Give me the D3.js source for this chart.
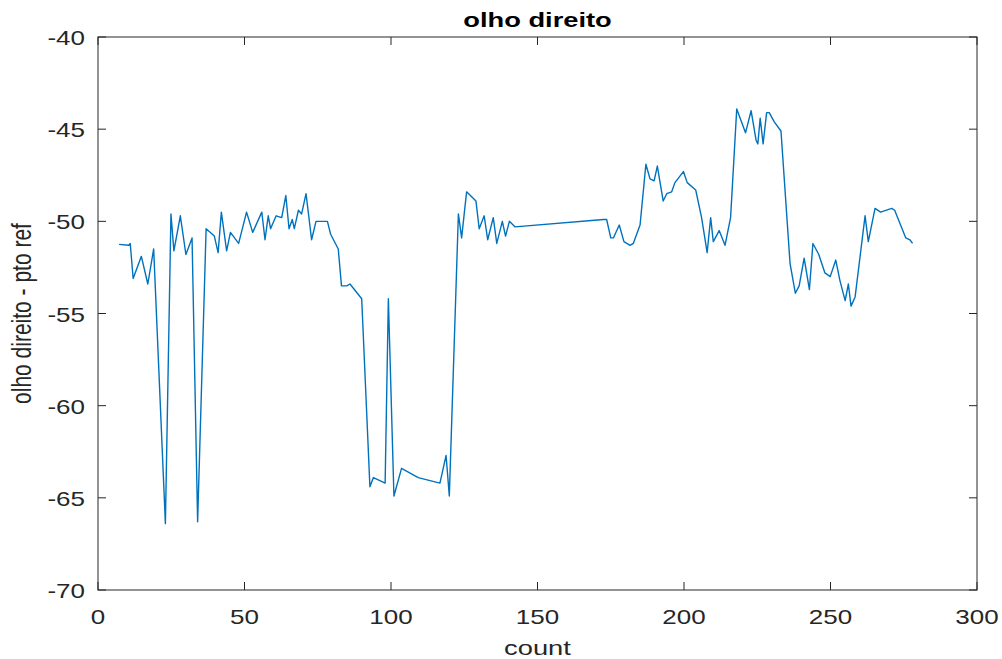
<!DOCTYPE html>
<html lang="en">
<head>
    <meta charset="UTF-8">
    <title>olho direito</title>
    <style>
        body { margin: 0; background: #fff; }
        text { font-family: "Liberation Sans", Arial, sans-serif; fill: #262626; }
        .tick-label { font-size: 20px; }
        .title { font-size: 21px; font-weight: bold; fill: #000; }
        .axis-label { font-size: 21px; }
    </style>
    <script src="https://d3js.org/d3.v7.min.js"></script>
</head>
<body>
    <div id="chart"></div>
    <script>
        // counts and values
        const counts = [7.2, 10.5, 11, 12, 14.8, 17, 19, 23, 24.9, 25.9, 28.1, 30, 32.1, 34,
            36.9, 39.7, 41, 42.1, 43.9, 45.2, 48, 50.7, 52.8, 55.9, 57, 58.1, 58.9, 60.8, 62.7,
            64.1, 65.2, 66.3, 67, 68.4, 69.5, 71, 72.9, 74.4, 78.3, 79.4, 82, 83.1, 84.9, 86, 90,
            92.8, 94, 98, 99.1, 101, 103.6, 109.3, 116.7, 118.8, 119.9, 123, 124.1, 125.8, 129,
            130.1, 131.8, 133, 134.9, 136.1, 138, 139.1, 140.4, 142.3, 172.5, 173.6, 175, 175.9,
            177.9, 179.5, 181.6, 182.7, 185, 187, 188.4, 189.8, 190.9, 192.9, 194.1, 195.8, 196.9,
            199.8, 201.1, 204, 206, 207.9, 209.1, 210, 212, 214, 215.9, 218, 221, 222.9, 224.6,
            225.2, 226, 227, 228.2, 229.1, 230.8, 233.1, 236.2, 238, 239.3, 241, 242.8, 244,
            246, 248.1, 249.9, 251.8, 253.2, 255, 256.1, 257, 258.4, 261.8, 262.9, 265.2, 267.1,
            270.9, 271.9, 275.7, 277.1, 278];
        const values = [-51.25, -51.3, -51.2, -53.1, -51.9, -53.4, -51.5, -66.4, -49.6, -51.6,
            -49.7, -51.8, -50.9, -66.3, -50.4, -50.8, -51.7, -49.5, -51.6, -50.6, -51.2, -49.5,
            -50.6, -49.5, -51.0, -49.7, -50.4, -49.7, -49.8, -48.6, -50.4, -49.9, -50.4, -49.4,
            -49.6, -48.5, -51.0, -50.0, -50.0, -50.7, -51.5, -53.5, -53.5, -53.4, -54.2, -64.4,
            -63.9, -64.2, -54.2, -64.9, -63.4, -63.9, -64.2, -62.7, -64.9, -49.6, -50.9, -48.4,
            -48.9, -50.4, -49.7, -51.0, -49.8, -51.2, -50.0, -50.8, -50.0, -50.3, -49.9, -49.9,
            -50.9, -50.9, -50.2, -51.1, -51.3, -51.2, -50.2, -46.9, -47.7, -47.8, -47.0, -48.9,
            -48.5, -48.4, -47.9, -47.3, -47.9, -48.3, -49.8, -51.7, -49.8, -51.1, -50.5, -51.3,
            -49.8, -43.9, -45.2, -44.0, -45.6, -45.8, -44.4, -45.8, -44.1, -44.1, -44.6, -45.1,
            -52.3, -53.9, -53.5, -52.0, -53.7, -51.2, -51.8, -52.8, -53.0, -52.1, -53.2, -54.3,
            -53.4, -54.6, -54.1, -49.7, -51.1, -49.3, -49.5, -49.3, -49.4, -50.9, -51.0, -51.2];
        const xTicks = [0, 50, 100, 150, 200, 250, 300];
        const yTicks = [-70, -65, -60, -55, -50, -45, -40];

        const width = 1002, height = 659;
        const margin = { left: 98, right: 25, top: 37, bottom: 69 };
        const tickLen = 8;
        const stretch = 1.3; // the figure's text is drawn wider than tall

        const svg = d3.select("#chart").append("svg")
            .attr("width", width)
            .attr("height", height);

        const x = d3.scaleLinear().domain([0, 300]).range([margin.left, width - margin.right]);
        const y = d3.scaleLinear().domain([-70, -40]).range([height - margin.bottom, margin.top]);

        const x0 = x.range()[0], x1 = x.range()[1];
        const y0 = y.range()[0], y1 = y.range()[1];

        // tick marks on all four sides, pointing in
        const ticks = svg.append("g").attr("stroke", "#262626").attr("stroke-width", 1);
        xTicks.forEach(t => {
            ticks.append("line").attr("x1", x(t)).attr("x2", x(t)).attr("y1", y0).attr("y2", y0 - tickLen);
            ticks.append("line").attr("x1", x(t)).attr("x2", x(t)).attr("y1", y1).attr("y2", y1 + tickLen);
        });
        yTicks.forEach(t => {
            ticks.append("line").attr("x1", x0).attr("x2", x0 + tickLen).attr("y1", y(t)).attr("y2", y(t));
            ticks.append("line").attr("x1", x1).attr("x2", x1 - tickLen).attr("y1", y(t)).attr("y2", y(t));
        });

        svg.append("rect")
            .attr("x", x0).attr("y", y1)
            .attr("width", x1 - x0).attr("height", y0 - y1)
            .attr("fill", "none")
            .attr("stroke", "#262626")
            .attr("stroke-width", 1);

        svg.selectAll(".xt")
            .data(xTicks)
            .join("text")
            .attr("class", "tick-label")
            .attr("text-anchor", "middle")
            .attr("transform", d => `translate(${x(d)},${y0 + 34}) scale(${stretch},1)`)
            .text(d => d);

        svg.selectAll(".yt")
            .data(yTicks)
            .join("text")
            .attr("class", "tick-label")
            .attr("text-anchor", "end")
            .attr("dy", "0.35em")
            .attr("transform", d => `translate(${x0 - 13},${y(d) + 1}) scale(${stretch},1)`)
            .text(d => d);

        const line = d3.line()
            .x((d, i) => x(counts[i]))
            .y(d => y(d));

        svg.append("path")
            .datum(values)
            .attr("fill", "none")
            .attr("stroke", "#0072BD")
            .attr("stroke-width", 1.4)
            .attr("stroke-linejoin", "round")
            .attr("d", line);

        svg.append("text")
            .attr("class", "title")
            .attr("text-anchor", "middle")
            .attr("transform", `translate(${(x0 + x1) / 2},27) scale(${stretch},1)`)
            .text("olho direito");

        svg.append("text")
            .attr("class", "axis-label")
            .attr("text-anchor", "middle")
            .attr("transform", `translate(${(x0 + x1) / 2},655) scale(${stretch},1)`)
            .text("count");

        svg.append("text")
            .attr("class", "axis-label")
            .attr("text-anchor", "middle")
            .attr("transform", `translate(31,${(y0 + y1) / 2}) scale(${stretch},1) rotate(-90)`)
            .text("olho direito - pto ref");
    </script>
</body>
</html>
